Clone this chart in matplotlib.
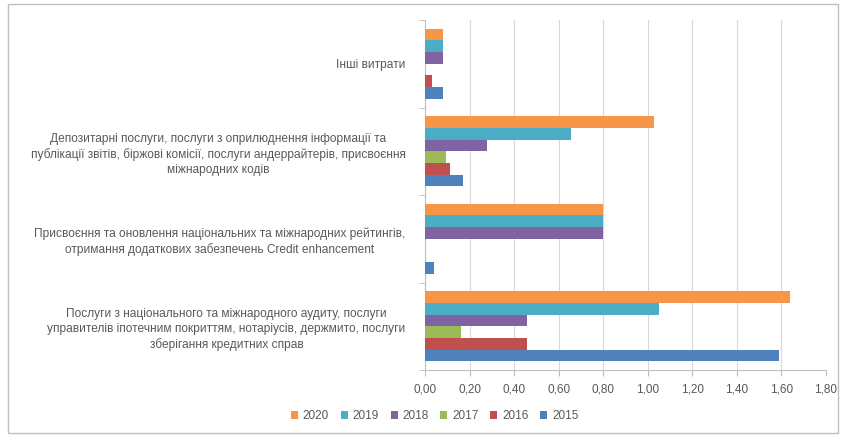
import numpy as np
import matplotlib.pyplot as plt
from matplotlib.patches import Rectangle

plt.rcParams['font.family'] = ['Liberation Sans', 'DejaVu Sans']

categories = [
    'Послуги з національного та міжнародного аудиту, послуги\n'
    'управителів іпотечним покриттям, нотаріусів, держмито, послуги\n'
    'зберігання кредитних справ',
    'Присвоєння та оновлення національних та міжнародних рейтингів,\n'
    'отримання додаткових забезпечень Credit enhancement',
    'Депозитарні послуги, послуги з оприлюднення інформації та\n'
    'публікації звітів, біржові комісії, послуги андеррайтерів, присвоєння\n'
    'міжнародних кодів',
    'Інші витрати',
]
years = ['2015', '2016', '2017', '2018', '2019', '2020']
v2015 = [1.59, 0.04, 0.17, 0.08]
v2016 = [0.46, 0.00, 0.11, 0.03]
v2017 = [0.16, 0.00, 0.095, 0.00]
v2018 = [0.46, 0.80, 0.28, 0.08]
v2019 = [1.05, 0.80, 0.655, 0.08]
v2020 = [1.64, 0.80, 1.03, 0.08]
series = [v2015, v2016, v2017, v2018, v2019, v2020]
colors = ['#4F81BD', '#C0504D', '#9BBB59', '#8064A2', '#4BACC6', '#F79646']
xticks = np.arange(0, 1.81, 0.2)

fig = plt.figure(figsize=(8.44, 4.37), dpi=100)
ax = fig.add_axes([425/844, 1-370/437, 401/844, 350/437])

y = np.arange(len(categories))
h = 0.8 / 6
for i, (vals, c, yr) in enumerate(zip(series, colors, years)):
    ax.barh(y - 0.4 + h/2 + i*h, vals, height=h, color=c, label=yr, zorder=3)

ax.set_xlim(0, 1.8)
ax.set_ylim(-0.5, len(categories) - 0.5)
ax.set_xticks(xticks)
ax.set_xticklabels([('%.2f' % t).replace('.', ',') for t in xticks], fontsize=8.5)
ax.set_yticks(y)
ax.set_yticklabels(categories, multialignment='center', linespacing=1.35, fontsize=8.6)
ax.set_yticks(np.arange(-0.5, len(categories)), minor=True)
ax.tick_params(axis='y', which='major', length=0, pad=14)
ax.tick_params(axis='y', which='minor', length=4, color='#BFBFBF', direction='out')
ax.tick_params(axis='x', length=4, color='#BFBFBF', direction='out', pad=6)
ax.tick_params(labelcolor='#595959')
ax.xaxis.grid(True, color='#D9D9D9', linewidth=0.8, zorder=0)
for s in ['top', 'right']:
    ax.spines[s].set_visible(False)
for s in ['left', 'bottom']:
    ax.spines[s].set_color('#BFBFBF')

handles, labels = ax.get_legend_handles_labels()
fig.legend(handles[::-1], labels[::-1], loc='center', bbox_to_anchor=(0.515, 1-416/437),
           ncol=6, frameon=False, fontsize=8.5, handlelength=0.6, handleheight=0.6,
           columnspacing=1.0, handletextpad=0.4, labelcolor='#595959')

fig.patches.append(Rectangle((8/844, 4/437), 830/844, 429/437, transform=fig.transFigure,
                             fill=False, edgecolor='#BFBFBF', linewidth=1))

fig.savefig('out.png', dpi=100)
